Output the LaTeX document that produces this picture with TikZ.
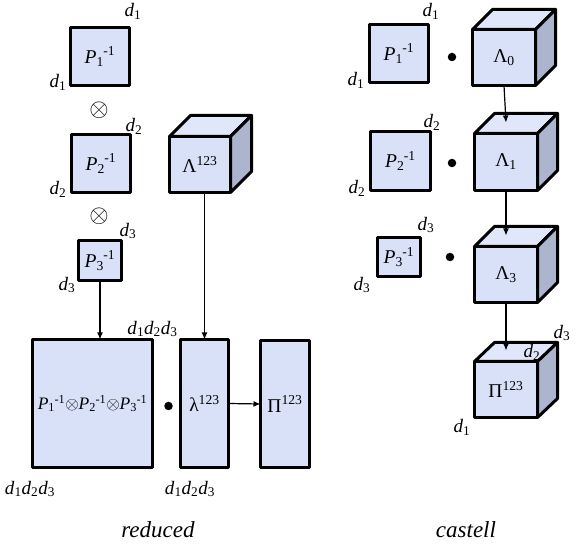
\documentclass[tikz,border=0pt]{standalone}
\usepackage{fontspec}
\setmainfont{Liberation Serif}
\usetikzlibrary{arrows.meta}
\definecolor{frontc}{HTML}{D8E1F8}
\definecolor{topc}{HTML}{E0E7FA}
\definecolor{sidec}{HTML}{ADB5CE}
\newcommand{\dd}[1]{\textit{d}\textsubscript{#1}}
\newcommand{\pinv}[1]{\textit{P}\textsubscript{#1}\kern-0.5pt\textsuperscript{-1}}
\newcommand{\otm}{{\fontsize{19}{21}\selectfont$\otimes$}}
\newcommand{\cubefaces}[3]{%
  \draw[faceline,fill=topc] (#1.north west) -- ([shift={(#2,#3)}]#1.north west) -- ([shift={(#2,#3)}]#1.north east) -- (#1.north east) -- cycle;
  \draw[faceline,fill=sidec] (#1.north east) -- ([shift={(#2,#3)}]#1.north east) -- ([shift={(#2,#3)}]#1.south east) -- (#1.south east) -- cycle;}
\begin{document}
\begin{tikzpicture}[x=1pt,y=-1pt,
  box/.style={draw,line width=3pt,line join=round,fill=frontc,inner sep=0pt,outer sep=0pt,
    font=\fontsize{19.5}{21}\selectfont},
  faceline/.style={draw,line width=3pt,line join=round},
  lbl/.style={inner sep=0pt,font=\fontsize{19}{21}\selectfont},
  conn/.style={line width=1.2pt,-{Latex[length=7pt,width=6pt]}},
  blob/.style={circle,fill=black,inner sep=0pt,minimum size=8.5pt},
  otim/.style={inner sep=0pt,font=\fontsize{25}{27}\selectfont},
  captxt/.style={inner sep=0pt,font=\fontsize{23}{26}\selectfont\itshape}]
\useasboundingbox (0,0) rectangle (582,545);
% ---------- reduced ----------
\node[box,minimum width=59pt,minimum height=58pt] (lP1) at (100,56.5) {\pinv{1}};
\node[box,minimum width=59pt,minimum height=58pt] (lP2) at (101,163.5) {\pinv{2}};
\node[box,minimum width=43pt,minimum height=40pt] (lP3) at (100,260.5) {\pinv{3}};
\node[otim] (ot1) at (99,110.5) {$\otimes$};
\node[otim] (ot2) at (99,216.5) {$\otimes$};
\node[lbl] (l1a) at (133,11) {\dd{1}};
\node[lbl] (l1b) at (58,82) {\dd{1}};
\node[lbl] (l2a) at (134,126) {\dd{2}};
\node[lbl] (l2b) at (58,189) {\dd{2}};
\node[lbl] (l3a) at (128,231) {\dd{3}};
\node[lbl] (l3b) at (67,285) {\dd{3}};
\node[box,minimum width=61pt,minimum height=56pt] (L123) at (200,164.5) {Λ\textsuperscript{123}};
\cubefaces{L123}{21}{-21}
\node[box,minimum width=120pt,minimum height=128pt,font=\fontsize{17.5}{19}\selectfont] (big) at (92.5,403.5) {\pinv{1}\otm\pinv{2}\otm\pinv{3}};
\node[blob] (dotl) at (168.5,406) {};
\node[box,minimum width=48pt,minimum height=128pt] (lam) at (204.5,403.5) {λ\textsuperscript{123}};
\node[box,minimum width=49pt,minimum height=127pt] (Pil) at (285,404) {Π\textsuperscript{123}};
\node[lbl] (lba) at (152.5,329) {\dd{1}\dd{2}\dd{3}};
\node[lbl] (lbb) at (30,489) {\dd{1}\dd{2}\dd{3}};
\node[lbl] (lbc) at (190,489) {\dd{1}\dd{2}\dd{3}};
\node[captxt] (capl) at (158,530) {reduced};
\draw[conn] (lP3.south) -- (lP3.south |- big.north);
\draw[conn] (lam.north |- L123.south) -- (lam.north);
\draw[conn] (lam.east) -- (Pil.west);
% ---------- castell ----------
\node[box,minimum width=59pt,minimum height=58pt] (rP1) at (399,53.5) {\pinv{1}};
\node[box,minimum width=60pt,minimum height=59pt] (rP2) at (400.5,161) {\pinv{2}};
\node[box,minimum width=43pt,minimum height=39pt] (rP3) at (399,257) {\pinv{3}};
\node[lbl] (r1a) at (431,11) {\dd{1}};
\node[lbl] (r1b) at (356,80) {\dd{1}};
\node[lbl] (r2a) at (432,122) {\dd{2}};
\node[lbl] (r2b) at (357,188) {\dd{2}};
\node[lbl] (r3a) at (426,225) {\dd{3}};
\node[lbl] (r3b) at (362,285) {\dd{3}};
\node[blob] (dr1) at (452,57) {};
\node[blob] (dr2) at (452,163) {};
\node[blob] (dr3) at (450,257) {};
\node[box,minimum width=63pt,minimum height=56pt] (L0) at (504,57.5) {Λ\textsubscript{0}};
\cubefaces{L0}{20}{-20}
\node[box,minimum width=63pt,minimum height=57pt] (L1) at (506,162) {Λ\textsubscript{1}};
\cubefaces{L1}{20}{-20}
\node[box,minimum width=63pt,minimum height=56pt] (L3) at (506,274.5) {Λ\textsubscript{3}};
\cubefaces{L3}{20}{-20}
\node[box,minimum width=63pt,minimum height=56pt] (Pir) at (506,389.5) {Π\textsuperscript{123}};
\cubefaces{Pir}{20}{-19}
\node[lbl] (p3) at (562,333) {\dd{3}};
\node[lbl] (p2) at (532,352) {\dd{2}};
\node[lbl] (p1) at (462,427) {\dd{1}};
\node[captxt] (capr) at (466,530) {castell};
\draw[conn] (L0.south) -- ([yshift=11pt]L1.north);
\draw[conn] (L1.south) -- ([yshift=11pt]L3.north);
\draw[conn] (L3.south) -- ([yshift=11pt]Pir.north);
\end{tikzpicture}
\end{document}
